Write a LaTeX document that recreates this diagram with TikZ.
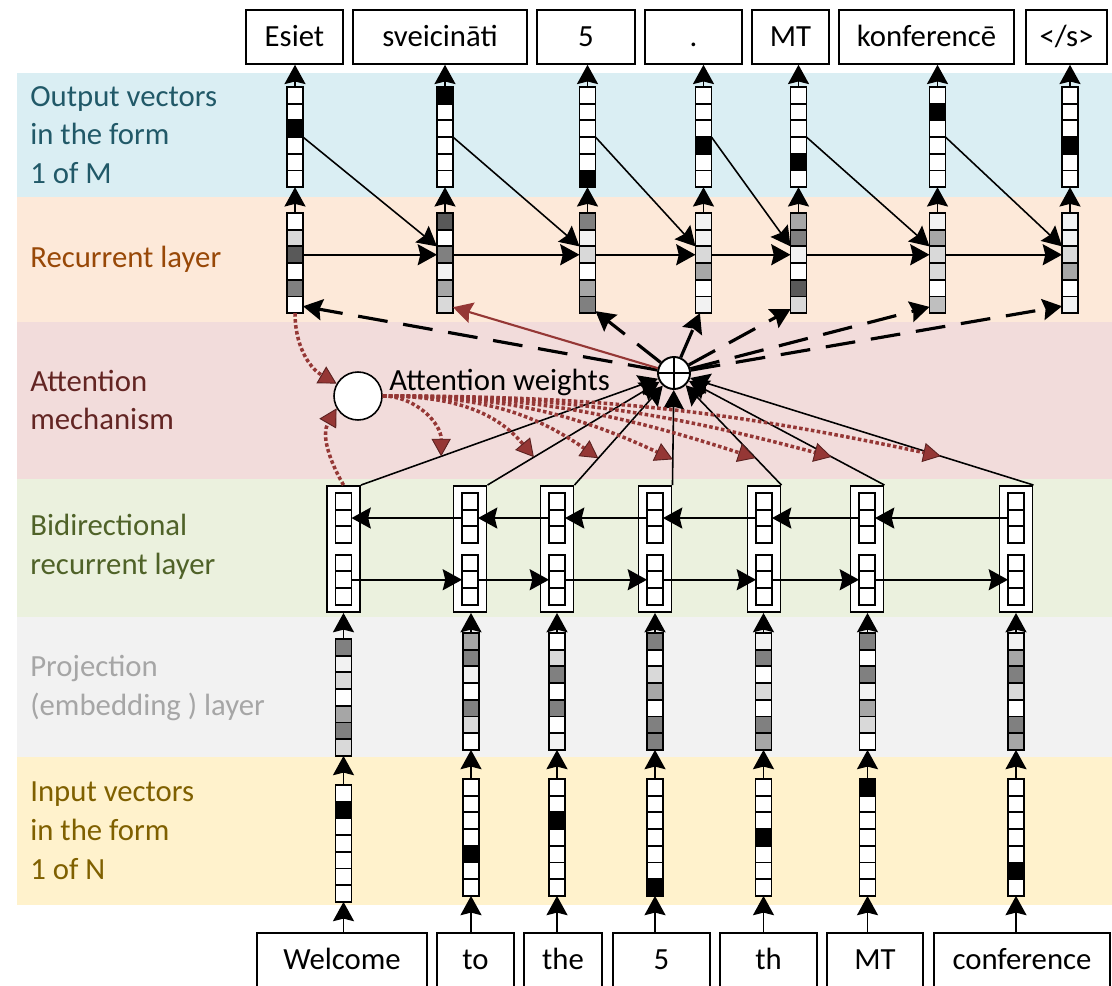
\documentclass[tikz,border=0pt]{standalone}
\usepackage{fontspec}
\setmainfont{Carlito}
\usetikzlibrary{arrows.meta}

\definecolor{outbg}{HTML}{DAEEF3}
\definecolor{recbg}{HTML}{FDE9D9}
\definecolor{attbg}{HTML}{F2DCDB}
\definecolor{bibg}{HTML}{EBF1DE}
\definecolor{probg}{HTML}{F2F2F2}
\definecolor{inpbg}{HTML}{FFF2CC}
\definecolor{outtxt}{HTML}{215968}
\definecolor{rectxt}{HTML}{984807}
\definecolor{atttxt}{HTML}{632523}
\definecolor{bitxt}{HTML}{4F6228}
\definecolor{protxt}{HTML}{A6A6A6}
\definecolor{inptxt}{HTML}{7F6000}
\definecolor{attred}{HTML}{953735}
\definecolor{g0}{HTML}{FFFFFF}
\definecolor{g1}{HTML}{F2F2F2}
\definecolor{g2}{HTML}{D9D9D9}
\definecolor{g3}{HTML}{BFBFBF}
\definecolor{g4}{HTML}{A6A6A6}
\definecolor{g5}{HTML}{808080}
\definecolor{g6}{HTML}{595959}
\definecolor{gk}{HTML}{000000}

% one column of cells: name, x, top y, fills
\newcommand{\cellvec}[4]{%
  \foreach \fillc [count=\idx] in {#4}
    \node[cell, fill=\fillc] (#1-\idx) at (#2,{#3+(\idx-0.5)*16.7}) {};
}
% bidirectional state: name, x
\newcommand{\bivec}[2]{%
  \node[bibox] (#1) at (#2,549) {};
  \foreach \idx in {1,2,3} {
    \node[cell, fill=white] (#1-b\idx) at (#2,{493+(\idx-0.5)*16.7}) {};
    \node[cell, fill=white] (#1-f\idx) at (#2,{555+(\idx-0.5)*16.5}) {};
  }
}

\begin{document}
\begin{tikzpicture}[x=0.02cm, y=-0.02cm,
    cell/.style={draw, line width=1.1pt, minimum width=0.32cm, minimum height=0.334cm, inner sep=0pt, outer sep=0pt},
    bibox/.style={draw, fill=white, line width=1.1pt, minimum width=0.66cm, minimum height=2.52cm, inner sep=0pt},
    word/.style={draw, fill=white, line width=0.9pt, minimum height=1.08cm, inner sep=0pt,
                 text height=13pt, text depth=2pt, font=\fontsize{17.5}{21}\selectfont},
    lab/.style={anchor=west, align=left, inner sep=0pt, font=\fontsize{17.5}{22.1}\selectfont},
    arr/.style={-{Stealth[length=11pt, width=12pt, inset=1.5pt]}, line width=0.9pt},
    dasharr/.style={arr, line width=1.8pt, dash pattern=on 17pt off 9pt},
    redarr/.style={-{Stealth[length=11pt, width=12pt, inset=1.5pt]}, draw=attred, line width=1.2pt},
    dotarr/.style={-{Triangle[length=10pt, width=11pt, line width=0.5pt, color=attred!60!black, fill=attred]},
                   draw=attred, line width=2pt, dash pattern=on 2pt off 1.4pt}]
  \tikzstyle{plus}=[circle, draw, fill=white, line width=1.1pt, minimum size=0.64cm, inner sep=0pt]

  \useasboundingbox (0,0) rectangle (1112,986);
  \clip (0,0) rectangle (1112,986);

  % layer bands
  \fill[outbg] (17,73) rectangle (1112,197);
  \fill[recbg] (17,197) rectangle (1112,322);
  \fill[attbg] (17,322) rectangle (1112,479);
  \fill[bibg] (17,479) rectangle (1112,617);
  \fill[probg] (17,617) rectangle (1112,757);
  \fill[inpbg] (17,757) rectangle (1112,905);

  \node[lab, text=outtxt] (labout) at (30,135) {Output vectors\\in the form\\1 of M};
  \node[lab, text=rectxt] (labrec) at (30,259) {Recurrent layer};
  \node[lab, text=atttxt] (labatt) at (30,400) {Attention\\mechanism};
  \node[lab, text=bitxt]  (labbi)  at (30,547) {Bidirectional\\recurrent layer};
  \node[lab, text=protxt] (labpro) at (30,688) {Projection\\(embedding ) layer};
  \node[lab, text=inptxt] (labinp) at (30,831) {Input vectors\\in the form\\1 of N};

  % target words
  \node[word, minimum width=1.94cm] (ow1) at (294.5,37) {Esiet};
  \node[word, minimum width=3.48cm] (ow2) at (440,37)   {sveicināti};
  \node[word, minimum width=1.96cm] (ow3) at (586,37)   {5};
  \node[word, minimum width=1.94cm] (ow4) at (693.5,37) {.};
  \node[word, minimum width=1.54cm] (ow5) at (790.5,37) {MT};
  \node[word, minimum width=3.50cm] (ow6) at (926.5,37) {konferencē};
  \node[word, minimum width=1.62cm] (ow7) at (1066.5,37) {</s>};

  % source words
  \node[word, minimum width=3.40cm] (iw1) at (342,960)   {Welcome};
  \node[word, minimum width=1.54cm] (iw2) at (475.5,960) {to};
  \node[word, minimum width=1.56cm] (iw3) at (563,960)   {the};
  \node[word, minimum width=1.94cm] (iw4) at (661.5,960) {5};
  \node[word, minimum width=1.94cm] (iw5) at (768.5,960) {th};
  \node[word, minimum width=1.92cm] (iw6) at (875,960)   {MT};
  \node[word, minimum width=3.52cm] (iw7) at (1022,960)  {conference};

  % output vectors (1 of M)
  \cellvec{out1}{295}{87}{g0,g0,gk,g0,g0,g0}
  \cellvec{out2}{445}{87}{gk,g0,g0,g0,g0,g0}
  \cellvec{out3}{587.5}{87}{g0,g0,g0,g0,g0,gk}
  \cellvec{out4}{703.5}{87}{g0,g0,g0,gk,g0,g0}
  \cellvec{out5}{798.5}{87}{g0,g0,g0,g0,gk,g0}
  \cellvec{out6}{937.5}{87}{g0,gk,g0,g0,g0,g0}
  \cellvec{out7}{1070}{87}{g0,g0,g0,gk,g0,g0}

  % recurrent layer
  \cellvec{rec1}{295}{213}{g0,g2,g6,g0,g5,g0}
  \cellvec{rec2}{445}{213}{g6,g0,g5,g1,g4,g2}
  \cellvec{rec3}{587.5}{213}{g5,g1,g2,g0,g4,g5}
  \cellvec{rec4}{703.5}{213}{g1,g1,g2,g4,g0,g1}
  \cellvec{rec5}{798.5}{213}{g4,g5,g1,g0,g6,g2}
  \cellvec{rec6}{937.5}{213}{g1,g4,g2,g2,g0,g3}
  \cellvec{rec7}{1070}{213}{g1,g1,g2,g4,g0,g1}

  % bidirectional layer
  \bivec{bi1}{343.5}
  \bivec{bi2}{470}
  \bivec{bi3}{557}
  \bivec{bi4}{655}
  \bivec{bi5}{764}
  \bivec{bi6}{867}
  \bivec{bi7}{1016}

  % projection layer
  \cellvec{pro1}{343.5}{639}{g5,g1,g2,g0,g4,g5,g2}
  \cellvec{pro2}{471}{633}{g4,g5,g1,g0,g5,g2,g0}
  \cellvec{pro3}{557}{633}{g0,g2,g5,g0,g5,g0,g1}
  \cellvec{pro4}{655}{633}{g5,g0,g2,g4,g0,g5,g5}
  \cellvec{pro5}{763.5}{633}{g1,g5,g0,g2,g0,g5,g4}
  \cellvec{pro6}{867.5}{633}{g5,g0,g5,g1,g4,g2,g0}
  \cellvec{pro7}{1016}{633}{g1,g4,g5,g2,g0,g5,g4}

  % input vectors (1 of N)
  \cellvec{inp1}{343.5}{785}{g0,gk,g0,g0,g0,g0,g0}
  \cellvec{inp2}{471}{779}{g0,g0,g0,g0,gk,g0,g0}
  \cellvec{inp3}{557}{779}{g0,g0,gk,g0,g0,g0,g0}
  \cellvec{inp4}{655}{779}{g0,g0,g0,g0,g0,g0,gk}
  \cellvec{inp5}{763.5}{779}{g0,g0,g0,gk,g0,g0,g0}
  \cellvec{inp6}{867.5}{779}{gk,g0,g0,g0,g0,g0,g0}
  \cellvec{inp7}{1016}{779}{g0,g0,g0,g0,g0,gk,g0}

  % attention
  \node[plus] (sum) at (674,373) {};
  \draw[line width=1.1pt] (sum.north) -- (sum.south) (sum.west) -- (sum.east);
  \node[circle, draw, fill=white, line width=0.9pt, minimum size=0.96cm, inner sep=0pt] (attw) at (358,396) {};
  \node[anchor=west, inner sep=0pt, font=\fontsize{17.5}{21}\selectfont] (attwlab) at (389,382) {Attention weights};

  \foreach \i in {1,...,7} {
    \draw[arr] (out\i-1.north) -- (out\i-1.north |- ow\i.south);
    \draw[arr] (rec\i-1.north) -- (out\i-6.south);
    \draw[arr] (pro\i-1.north) -- (pro\i-1.north |- bi\i.south);
    \draw[arr] (inp\i-1.north) -- (pro\i-7.south);
    \draw[arr] (inp\i-7.south |- iw\i.north) -- (inp\i-7.south);
    \draw[arr] (bi\i.north east) -- (sum);
    \path (bi\i.north east) -- (sum) coordinate[pos=0.27] (m\i);
  }
  \foreach \i [count=\j from 2] in {1,...,6} {
    \draw[arr] (out\i-3.south east) -- (rec\j-2.south west);
    \draw[arr] (rec\i-3.east) -- (rec\j-3.west);
    \draw[arr] (bi\j-b2.west) -- (bi\i-b2.east);
    \draw[arr] (bi\i-f2.east) -- (bi\j-f2.west);
  }

  \foreach \i in {1,3,4,5,6,7}
    \draw[dasharr] (sum) -- (rec\i-6);
  \draw[redarr] (sum) -- (rec2-6);

  \draw[dotarr] (rec1-6.south) to[out=-90, in=150] (attw.150);
  \draw[dotarr] (bi1.north) to[out=120, in=-120] (attw.-150);
  \foreach \i/\a in {1/90, 2/130, 3/145, 4/155, 5/162, 6/165, 7/168}
    \draw[dotarr] (attw.east) to[out=0, in=\a] (m\i);
\end{tikzpicture}
\end{document}
